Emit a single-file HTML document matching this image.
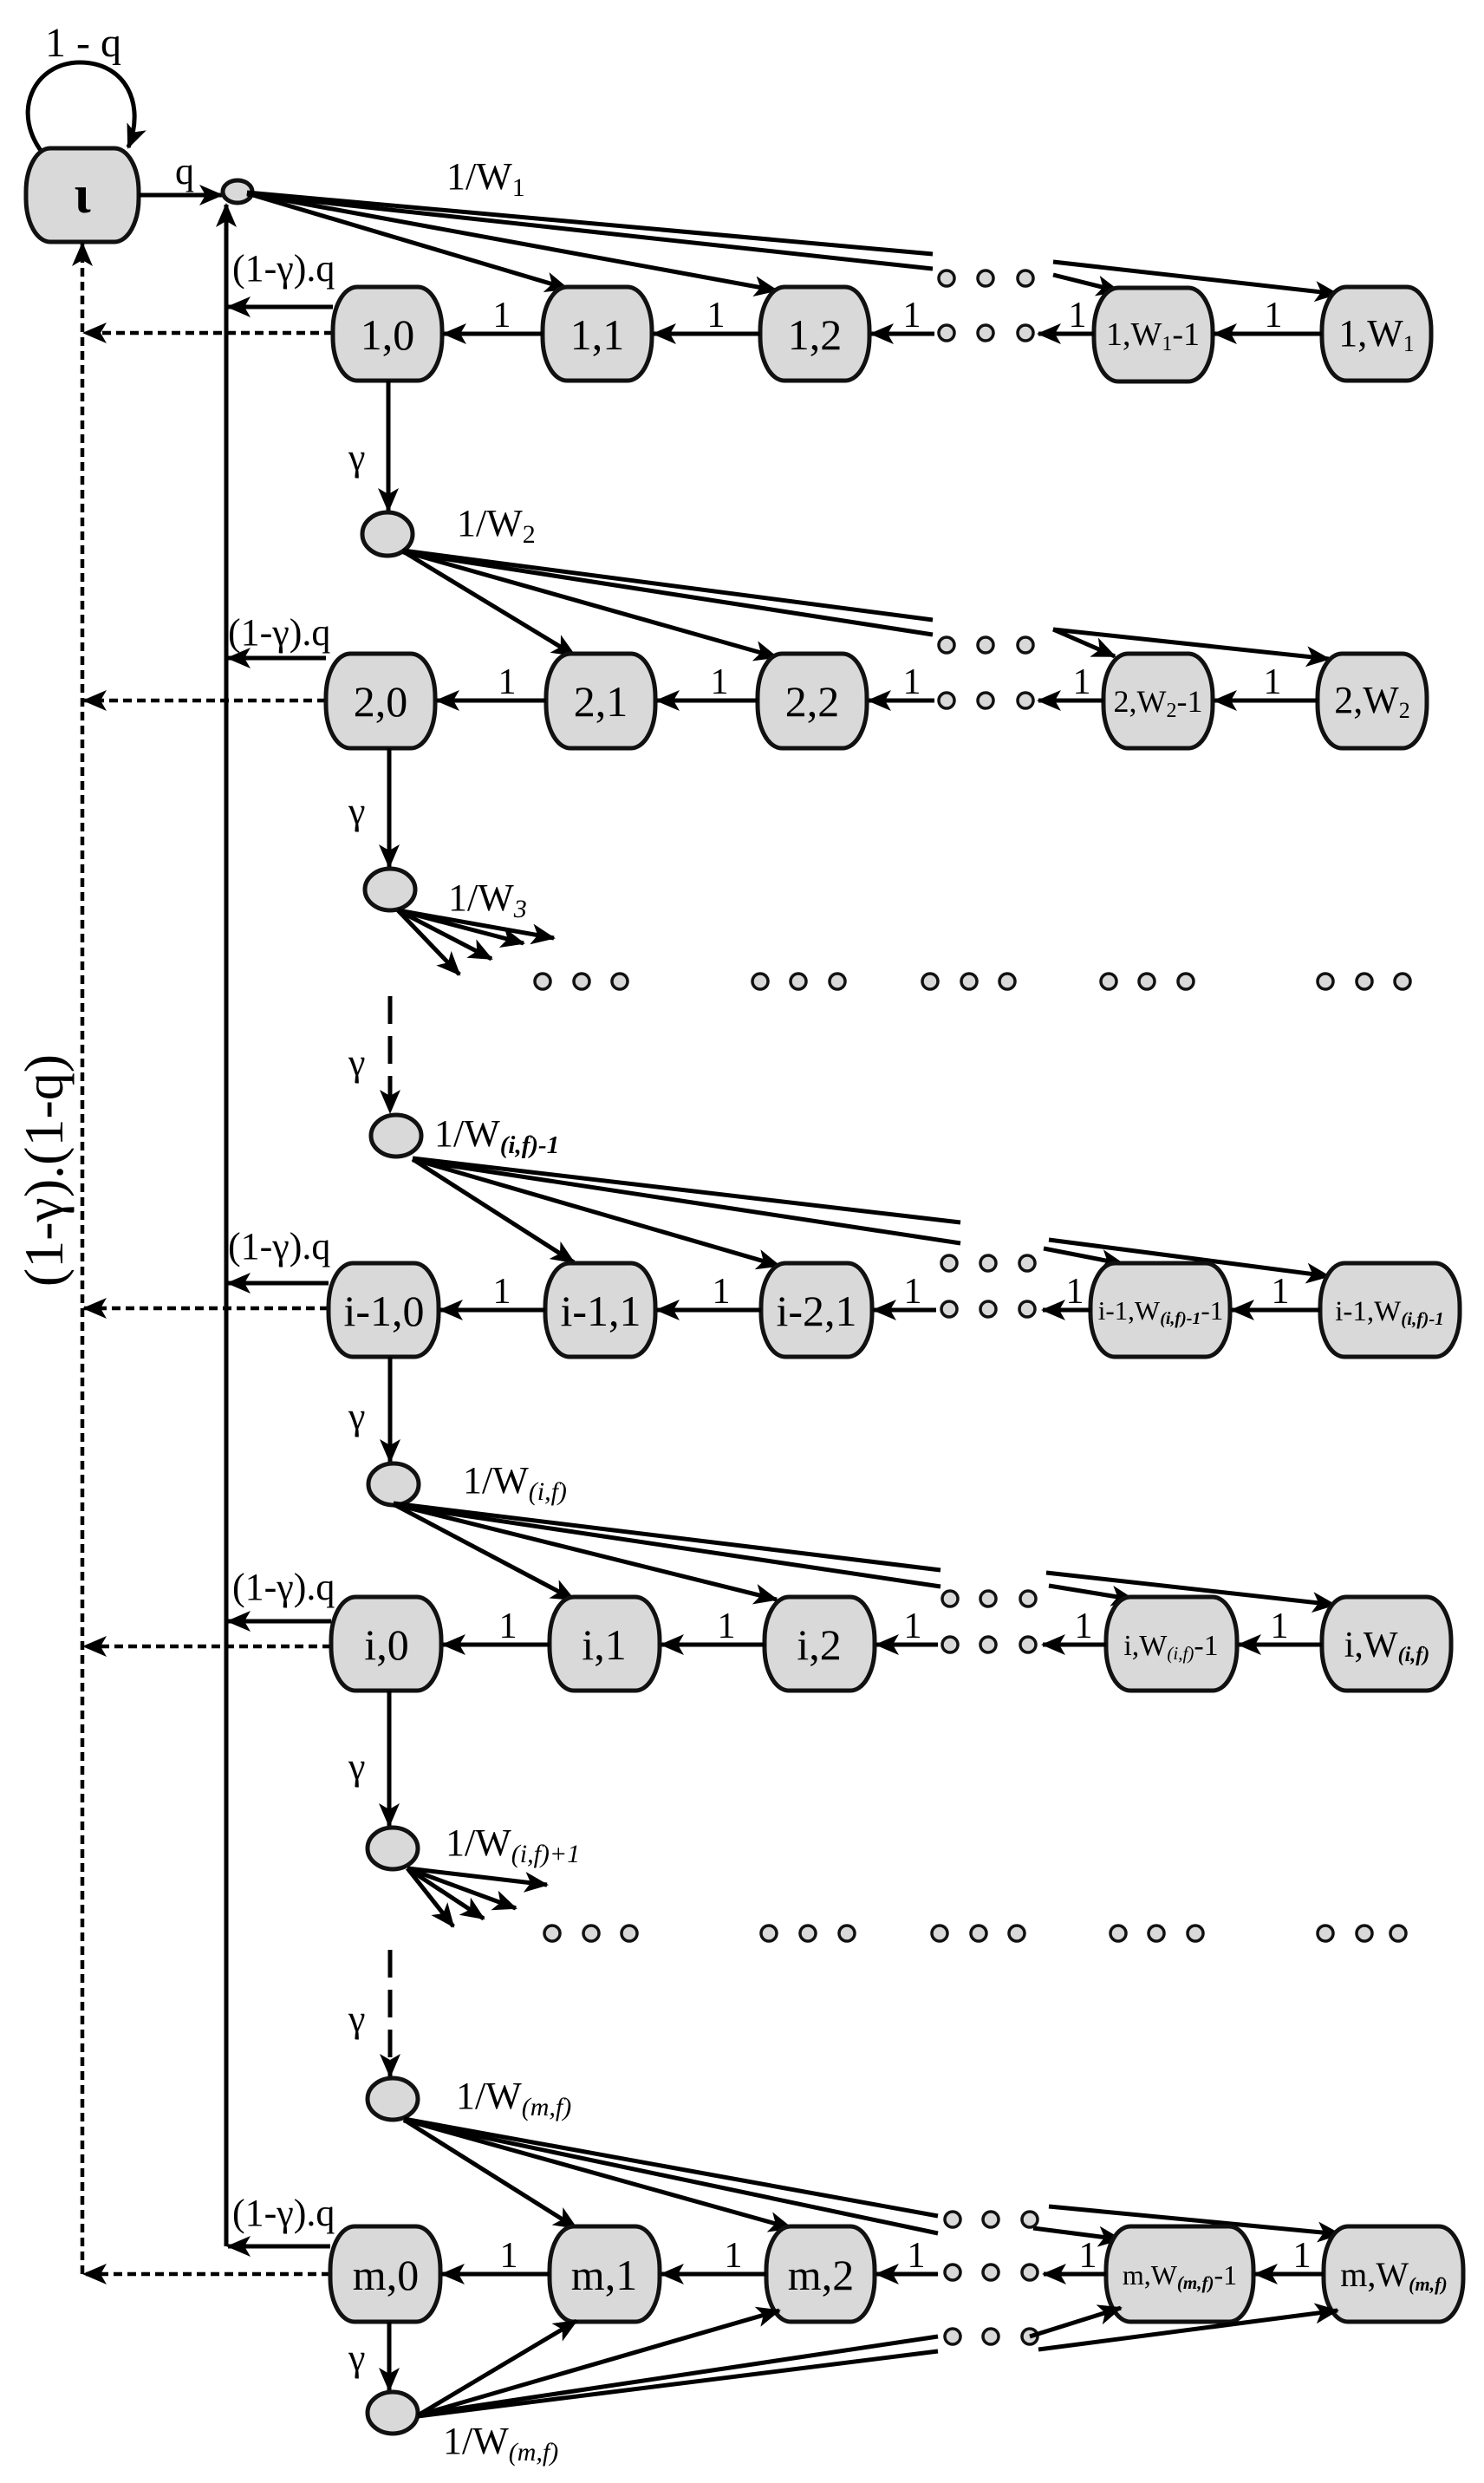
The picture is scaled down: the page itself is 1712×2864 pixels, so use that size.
<!DOCTYPE html>
<html><head><meta charset="utf-8"><style>
html,body{margin:0;padding:0;background:#fff}
svg{display:block}
text{font-family:"Liberation Serif","DejaVu Serif",serif;fill:#000}
.n{fill:#d9d9d9;stroke:#111;stroke-width:5}
.l{stroke:#000;stroke-width:5;fill:none}
.d{stroke:#000;stroke-width:4.5;fill:none;stroke-dasharray:10 6}
.g{stroke:#000;stroke-width:5;fill:none;stroke-dasharray:32 14}
.dot{fill:#d9d9d9;stroke:#111;stroke-width:3.5}
.t{font-size:50px;text-anchor:middle}
.s{font-size:38px;text-anchor:middle}
.x{font-size:29px;text-anchor:middle}
.e{font-size:42px;text-anchor:middle}
.q{font-size:44px}
</style></head><body>
<svg width="1712" height="2864" viewBox="0 0 1712 2864" xmlns="http://www.w3.org/2000/svg" font-family="Liberation Serif, serif">
<defs>
<marker id="a" markerWidth="28" markerHeight="24" refX="26" refY="12" orient="auto" markerUnits="userSpaceOnUse"><path d="M0,0 L28,12 L0,24 L7,12z" fill="#000"/></marker>
</defs>

<!-- iota -->
<text x="96" y="65" style="font-size:48px;text-anchor:middle">1 - q</text>
<path class="l" d="M52,180 C10,130 40,72 92,72 C145,72 168,120 148,170" marker-end="url(#a)"/>
<rect class="n" x="30" y="171" width="130" height="108" rx="28" ry="50"/>
<text x="95" y="245" style="font-size:62px;text-anchor:middle;font-weight:bold">ι</text>
<line class="l" x1="160" y1="225" x2="256" y2="225" marker-end="url(#a)"/>
<text x="202" y="212" class="q">q</text>
<ellipse class="n" cx="274" cy="221" rx="17" ry="13"/>

<!-- main verticals -->
<line class="l" x1="261" y1="2591" x2="261" y2="236" marker-end="url(#a)"/>
<line class="d" x1="95" y1="2623" x2="95" y2="281" marker-end="url(#a)"/>
<text transform="translate(72,1350) rotate(-90)" style="font-size:64px;text-anchor:middle">(1-γ).(1-q)</text>

<!-- ROW 1 -->
<text x="515" y="218" class="q">1/W<tspan font-size="30" dy="8">1</tspan></text>
<line class="l" x1="285" y1="223" x2="655" y2="333" marker-end="url(#a)"/>
<line class="l" x1="285" y1="223" x2="896" y2="335" marker-end="url(#a)"/>
<line class="l" x1="285" y1="222" x2="1076" y2="293"/>
<line class="l" x1="285" y1="224" x2="1076" y2="310"/>
<line class="l" x1="1215" y1="302" x2="1543" y2="339" marker-end="url(#a)"/>
<line class="l" x1="1215" y1="317" x2="1291" y2="336" marker-end="url(#a)"/>
<text x="268" y="324" class="q">(1-γ).q</text>
<line class="l" x1="384" y1="354" x2="263" y2="354" marker-end="url(#a)"/>
<line class="d" x1="384" y1="384" x2="97" y2="384" marker-end="url(#a)"/>
<rect class="n" x="384" y="331" width="126" height="108" rx="28" ry="50"/><text class="t" x="447" y="403">1,0</text>
<rect class="n" x="626" y="331" width="126" height="108" rx="28" ry="50"/><text class="t" x="689" y="403">1,1</text>
<rect class="n" x="877" y="331" width="126" height="108" rx="28" ry="50"/><text class="t" x="940" y="403">1,2</text>
<rect class="n" x="1262" y="332" width="137" height="108" rx="28" ry="50"/><text class="s" x="1330" y="398">1,W<tspan font-size="24" dy="6">1</tspan><tspan dy="-6">-1</tspan></text>
<rect class="n" x="1525" y="331" width="126" height="108" rx="28" ry="50"/><text class="s" x="1588" y="399" style="font-size:44px">1,W<tspan font-size="26" dy="6">1</tspan></text>
<line class="l" x1="626" y1="385" x2="512" y2="385" marker-end="url(#a)"/>
<line class="l" x1="877" y1="385" x2="754" y2="385" marker-end="url(#a)"/>
<line class="l" x1="1078" y1="385" x2="1005" y2="385" marker-end="url(#a)"/>
<line class="l" x1="1262" y1="385" x2="1198" y2="385" marker-end="url(#a)"/>
<line class="l" x1="1525" y1="385" x2="1401" y2="385" marker-end="url(#a)"/>
<text class="e" x="579" y="377">1</text><text class="e" x="826" y="377">1</text><text class="e" x="1052" y="377">1</text><text class="e" x="1243" y="377">1</text><text class="e" x="1469" y="377">1</text>
<circle class="dot" cx="1092" cy="321" r="9"/><circle class="dot" cx="1137" cy="321" r="9"/><circle class="dot" cx="1183" cy="321" r="9"/>
<circle class="dot" cx="1092" cy="384" r="9"/><circle class="dot" cx="1137" cy="384" r="9"/><circle class="dot" cx="1183" cy="384" r="9"/>
<line class="l" x1="448" y1="439" x2="448" y2="589" marker-end="url(#a)"/>
<text x="402" y="542" class="q">γ</text>
<ellipse class="n" cx="447" cy="616" rx="29" ry="25"/>

<!-- ROW 2 -->
<text x="527" y="618" class="q">1/W<tspan font-size="30" dy="8">2</tspan></text>
<line class="l" x1="465" y1="636" x2="663" y2="756" marker-end="url(#a)"/>
<line class="l" x1="465" y1="636" x2="896" y2="758" marker-end="url(#a)"/>
<line class="l" x1="465" y1="635" x2="1076" y2="715"/>
<line class="l" x1="465" y1="637" x2="1076" y2="732"/>
<line class="l" x1="1215" y1="726" x2="1533" y2="760" marker-end="url(#a)"/>
<line class="l" x1="1215" y1="726" x2="1286" y2="757" marker-end="url(#a)"/>
<text x="263" y="744" class="q">(1-γ).q</text>
<line class="l" x1="376" y1="759" x2="263" y2="759" marker-end="url(#a)"/>
<line class="d" x1="376" y1="808" x2="97" y2="808" marker-end="url(#a)"/>
<rect class="n" x="376" y="754" width="126" height="109" rx="28" ry="50"/><text class="t" x="439" y="826">2,0</text>
<rect class="n" x="630" y="754" width="126" height="109" rx="28" ry="50"/><text class="t" x="693" y="826">2,1</text>
<rect class="n" x="874" y="754" width="126" height="109" rx="28" ry="50"/><text class="t" x="937" y="826">2,2</text>
<rect class="n" x="1273" y="754" width="126" height="109" rx="28" ry="50"/><text class="s" x="1336" y="821" style="font-size:36px">2,W<tspan font-size="24" dy="6">2</tspan><tspan dy="-6">-1</tspan></text>
<rect class="n" x="1520" y="754" width="126" height="109" rx="28" ry="50"/><text class="s" x="1583" y="822" style="font-size:44px">2,W<tspan font-size="26" dy="6">2</tspan></text>
<line class="l" x1="630" y1="808" x2="504" y2="808" marker-end="url(#a)"/>
<line class="l" x1="874" y1="808" x2="758" y2="808" marker-end="url(#a)"/>
<line class="l" x1="1078" y1="808" x2="1002" y2="808" marker-end="url(#a)"/>
<line class="l" x1="1273" y1="808" x2="1198" y2="808" marker-end="url(#a)"/>
<line class="l" x1="1520" y1="808" x2="1401" y2="808" marker-end="url(#a)"/>
<text class="e" x="585" y="800">1</text><text class="e" x="830" y="800">1</text><text class="e" x="1052" y="800">1</text><text class="e" x="1248" y="800">1</text><text class="e" x="1468" y="800">1</text>
<circle class="dot" cx="1092" cy="744" r="9"/><circle class="dot" cx="1137" cy="744" r="9"/><circle class="dot" cx="1183" cy="744" r="9"/>
<circle class="dot" cx="1092" cy="808" r="9"/><circle class="dot" cx="1137" cy="808" r="9"/><circle class="dot" cx="1183" cy="808" r="9"/>
<line class="l" x1="449" y1="863" x2="449" y2="1000" marker-end="url(#a)"/>
<text x="402" y="950" class="q">γ</text>
<ellipse class="n" cx="450" cy="1026" rx="29" ry="24"/>

<!-- fan 3 -->
<text x="517" y="1050" class="q">1/W<tspan font-size="30" dy="8" font-style="italic">3</tspan></text>
<line class="l" x1="459" y1="1050" x2="530" y2="1124" marker-end="url(#a)"/>
<line class="l" x1="459" y1="1050" x2="567" y2="1106" marker-end="url(#a)"/>
<line class="l" x1="459" y1="1050" x2="604" y2="1088" marker-end="url(#a)"/>
<line class="l" x1="459" y1="1050" x2="639" y2="1082" marker-end="url(#a)"/>
<g>
<circle class="dot" cx="626" cy="1132" r="9"/><circle class="dot" cx="671" cy="1132" r="9"/><circle class="dot" cx="715" cy="1132" r="9"/>
<circle class="dot" cx="877" cy="1132" r="9"/><circle class="dot" cx="921" cy="1132" r="9"/><circle class="dot" cx="966" cy="1132" r="9"/>
<circle class="dot" cx="1073" cy="1132" r="9"/><circle class="dot" cx="1118" cy="1132" r="9"/><circle class="dot" cx="1162" cy="1132" r="9"/>
<circle class="dot" cx="1279" cy="1132" r="9"/><circle class="dot" cx="1323" cy="1132" r="9"/><circle class="dot" cx="1368" cy="1132" r="9"/>
<circle class="dot" cx="1529" cy="1132" r="9"/><circle class="dot" cx="1574" cy="1132" r="9"/><circle class="dot" cx="1618" cy="1132" r="9"/>
</g>
<line class="g" x1="450" y1="1149" x2="450" y2="1283" marker-end="url(#a)"/>
<text x="402" y="1240" class="q">γ</text>
<ellipse class="n" cx="457" cy="1310" rx="29" ry="24"/>

<!-- ROW i-1 -->
<text x="501" y="1322" class="q">1/W<tspan font-size="29" dy="8" font-style="italic" font-weight="bold">(i,f)-1</tspan></text>
<line class="l" x1="476" y1="1337" x2="662" y2="1456" marker-end="url(#a)"/>
<line class="l" x1="476" y1="1337" x2="899" y2="1460" marker-end="url(#a)"/>
<line class="l" x1="476" y1="1336" x2="1108" y2="1410"/>
<line class="l" x1="476" y1="1338" x2="1108" y2="1434"/>
<line class="l" x1="1210" y1="1430" x2="1533" y2="1472" marker-end="url(#a)"/>
<line class="l" x1="1204" y1="1440" x2="1296" y2="1458" marker-end="url(#a)"/>
<text x="263" y="1452" class="q">(1-γ).q</text>
<line class="l" x1="379" y1="1480" x2="263" y2="1480" marker-end="url(#a)"/>
<line class="d" x1="379" y1="1509" x2="97" y2="1509" marker-end="url(#a)"/>
<rect class="n" x="379" y="1457" width="127" height="108" rx="28" ry="50"/><text class="t" x="443" y="1529">i-1,0</text>
<rect class="n" x="629" y="1457" width="127" height="108" rx="28" ry="50"/><text class="t" x="693" y="1529">i-1,1</text>
<rect class="n" x="878" y="1457" width="128" height="108" rx="28" ry="50"/><text class="t" x="942" y="1529">i-2,1</text>
<rect class="n" x="1258" y="1457" width="161" height="108" rx="28" ry="50"/><text class="x" x="1339" y="1522" style="font-size:31px">i-1,W<tspan font-size="20" dy="5" font-style="italic" font-weight="bold">(i,f)-1</tspan><tspan dy="-5">-1</tspan></text>
<rect class="n" x="1523" y="1457" width="161" height="108" rx="28" ry="50"/><text class="x" x="1603" y="1523" style="font-size:33px">i-1,W<tspan font-size="21" dy="5" font-style="italic" font-weight="bold">(i,f)-1</tspan></text>
<line class="l" x1="629" y1="1511" x2="508" y2="1511" marker-end="url(#a)"/>
<line class="l" x1="878" y1="1511" x2="758" y2="1511" marker-end="url(#a)"/>
<line class="l" x1="1080" y1="1511" x2="1008" y2="1511" marker-end="url(#a)"/>
<line class="l" x1="1258" y1="1511" x2="1203" y2="1511" marker-end="url(#a)"/>
<line class="l" x1="1523" y1="1511" x2="1421" y2="1511" marker-end="url(#a)"/>
<text class="e" x="579" y="1503">1</text><text class="e" x="832" y="1503">1</text><text class="e" x="1053" y="1503">1</text><text class="e" x="1240" y="1503">1</text><text class="e" x="1477" y="1503">1</text>
<circle class="dot" cx="1095" cy="1457" r="9"/><circle class="dot" cx="1140" cy="1457" r="9"/><circle class="dot" cx="1185" cy="1457" r="9"/>
<circle class="dot" cx="1095" cy="1510" r="9"/><circle class="dot" cx="1140" cy="1510" r="9"/><circle class="dot" cx="1185" cy="1510" r="9"/>
<line class="l" x1="450" y1="1565" x2="450" y2="1686" marker-end="url(#a)"/>
<text x="402" y="1648" class="q">γ</text>
<ellipse class="n" cx="454" cy="1712" rx="29" ry="24"/>

<!-- ROW i -->
<text x="534" y="1722" class="q">1/W<tspan font-size="30" dy="8" font-style="italic">(i,f)</tspan></text>
<line class="l" x1="454" y1="1735" x2="662" y2="1845" marker-end="url(#a)"/>
<line class="l" x1="454" y1="1735" x2="896" y2="1845" marker-end="url(#a)"/>
<line class="l" x1="454" y1="1734" x2="1085" y2="1811"/>
<line class="l" x1="454" y1="1736" x2="1085" y2="1830"/>
<line class="l" x1="1207" y1="1814" x2="1540" y2="1851" marker-end="url(#a)"/>
<line class="l" x1="1210" y1="1829" x2="1308" y2="1845" marker-end="url(#a)"/>
<text x="268" y="1845" class="q">(1-γ).q</text>
<line class="l" x1="382" y1="1870" x2="263" y2="1870" marker-end="url(#a)"/>
<line class="d" x1="382" y1="1899" x2="97" y2="1899" marker-end="url(#a)"/>
<rect class="n" x="382" y="1842" width="127" height="108" rx="28" ry="50"/><text class="t" x="446" y="1914">i,0</text>
<rect class="n" x="634" y="1842" width="127" height="108" rx="28" ry="50"/><text class="t" x="697" y="1914">i,1</text>
<rect class="n" x="882" y="1842" width="127" height="108" rx="28" ry="50"/><text class="t" x="945" y="1914">i,2</text>
<rect class="n" x="1276" y="1842" width="151" height="108" rx="28" ry="50"/><text class="s" x="1351" y="1909" style="font-size:34px">i,W<tspan font-size="21" dy="5" font-style="italic">(i,f)</tspan><tspan dy="-5">-1</tspan></text>
<rect class="n" x="1525" y="1842" width="149" height="108" rx="28" ry="50"/><text class="s" x="1600" y="1911" style="font-size:42px">i,W<tspan font-size="24" dy="5" font-style="italic" font-weight="bold">(i,f)</tspan></text>
<line class="l" x1="634" y1="1897" x2="511" y2="1897" marker-end="url(#a)"/>
<line class="l" x1="882" y1="1897" x2="763" y2="1897" marker-end="url(#a)"/>
<line class="l" x1="1082" y1="1897" x2="1011" y2="1897" marker-end="url(#a)"/>
<line class="l" x1="1276" y1="1897" x2="1203" y2="1897" marker-end="url(#a)"/>
<line class="l" x1="1525" y1="1897" x2="1429" y2="1897" marker-end="url(#a)"/>
<text class="e" x="586" y="1889">1</text><text class="e" x="838" y="1889">1</text><text class="e" x="1053" y="1889">1</text><text class="e" x="1250" y="1889">1</text><text class="e" x="1476" y="1889">1</text>
<circle class="dot" cx="1096" cy="1844" r="9"/><circle class="dot" cx="1140" cy="1844" r="9"/><circle class="dot" cx="1186" cy="1844" r="9"/>
<circle class="dot" cx="1096" cy="1897" r="9"/><circle class="dot" cx="1140" cy="1897" r="9"/><circle class="dot" cx="1186" cy="1897" r="9"/>
<line class="l" x1="449" y1="1950" x2="449" y2="2106" marker-end="url(#a)"/>
<text x="402" y="2052" class="q">γ</text>
<ellipse class="n" cx="453" cy="2132" rx="29" ry="24"/>

<!-- fan 6 -->
<text x="514" y="2140" class="q">1/W<tspan font-size="30" dy="8" font-style="italic">(i,f)+1</tspan></text>
<line class="l" x1="470" y1="2155" x2="523" y2="2222" marker-end="url(#a)"/>
<line class="l" x1="470" y1="2155" x2="558" y2="2213" marker-end="url(#a)"/>
<line class="l" x1="470" y1="2155" x2="595" y2="2201" marker-end="url(#a)"/>
<line class="l" x1="470" y1="2155" x2="631" y2="2174" marker-end="url(#a)"/>
<g>
<circle class="dot" cx="637" cy="2230" r="9"/><circle class="dot" cx="682" cy="2230" r="9"/><circle class="dot" cx="726" cy="2230" r="9"/>
<circle class="dot" cx="887" cy="2230" r="9"/><circle class="dot" cx="932" cy="2230" r="9"/><circle class="dot" cx="977" cy="2230" r="9"/>
<circle class="dot" cx="1084" cy="2230" r="9"/><circle class="dot" cx="1129" cy="2230" r="9"/><circle class="dot" cx="1173" cy="2230" r="9"/>
<circle class="dot" cx="1290" cy="2230" r="9"/><circle class="dot" cx="1334" cy="2230" r="9"/><circle class="dot" cx="1379" cy="2230" r="9"/>
<circle class="dot" cx="1529" cy="2230" r="9"/><circle class="dot" cx="1574" cy="2230" r="9"/><circle class="dot" cx="1613" cy="2230" r="9"/>
</g>
<line class="g" x1="450" y1="2249" x2="450" y2="2395" marker-end="url(#a)"/>
<text x="402" y="2343" class="q">γ</text>
<ellipse class="n" cx="453" cy="2421" rx="29" ry="24"/>

<!-- ROW m -->
<text x="526" y="2432" class="q">1/W<tspan font-size="30" dy="8" font-style="italic">(m,f)</tspan></text>
<line class="l" x1="466" y1="2445" x2="665" y2="2570" marker-end="url(#a)"/>
<line class="l" x1="466" y1="2445" x2="913" y2="2570" marker-end="url(#a)"/>
<line class="l" x1="466" y1="2444" x2="1082" y2="2556"/>
<line class="l" x1="466" y1="2446" x2="1082" y2="2576"/>
<line class="l" x1="1210" y1="2545" x2="1546" y2="2577" marker-end="url(#a)"/>
<line class="l" x1="1192" y1="2570" x2="1293" y2="2583" marker-end="url(#a)"/>
<text x="268" y="2567" class="q">(1-γ).q</text>
<line class="l" x1="381" y1="2591" x2="263" y2="2591" marker-end="url(#a)"/>
<line class="d" x1="381" y1="2623" x2="97" y2="2623" marker-end="url(#a)"/>
<rect class="n" x="381" y="2568" width="127" height="110" rx="28" ry="50"/><text class="t" x="445" y="2641">m,0</text>
<rect class="n" x="634" y="2568" width="127" height="110" rx="28" ry="50"/><text class="t" x="697" y="2641">m,1</text>
<rect class="n" x="884" y="2568" width="125" height="110" rx="28" ry="50"/><text class="t" x="947" y="2641">m,2</text>
<rect class="n" x="1276" y="2568" width="170" height="110" rx="28" ry="50"/><text class="s" x="1361" y="2635" style="font-size:32px">m,W<tspan font-size="21" dy="5" font-style="italic" font-weight="bold">(m,f)</tspan><tspan dy="-5">-1</tspan></text>
<rect class="n" x="1527" y="2568" width="161" height="110" rx="28" ry="50"/><text class="s" x="1608" y="2637" style="font-size:40px">m,W<tspan font-size="22" dy="5" font-style="italic" font-weight="bold">(m,f)</tspan></text>
<line class="l" x1="634" y1="2623" x2="510" y2="2623" marker-end="url(#a)"/>
<line class="l" x1="884" y1="2623" x2="763" y2="2623" marker-end="url(#a)"/>
<line class="l" x1="1082" y1="2623" x2="1011" y2="2623" marker-end="url(#a)"/>
<line class="l" x1="1276" y1="2623" x2="1204" y2="2623" marker-end="url(#a)"/>
<line class="l" x1="1527" y1="2623" x2="1448" y2="2623" marker-end="url(#a)"/>
<text class="e" x="587" y="2615">1</text><text class="e" x="846" y="2615">1</text><text class="e" x="1057" y="2615">1</text><text class="e" x="1255" y="2615">1</text><text class="e" x="1502" y="2615">1</text>
<circle class="dot" cx="1099" cy="2560" r="9"/><circle class="dot" cx="1143" cy="2560" r="9"/><circle class="dot" cx="1188" cy="2560" r="9"/>
<circle class="dot" cx="1099" cy="2621" r="9"/><circle class="dot" cx="1143" cy="2621" r="9"/><circle class="dot" cx="1188" cy="2621" r="9"/>
<circle class="dot" cx="1099" cy="2695" r="9"/><circle class="dot" cx="1143" cy="2695" r="9"/><circle class="dot" cx="1188" cy="2695" r="9"/>
<line class="l" x1="449" y1="2678" x2="449" y2="2757" marker-end="url(#a)"/>
<text x="402" y="2734" class="q">γ</text>
<ellipse class="n" cx="453" cy="2783" rx="29" ry="24"/>
<line class="l" x1="482" y1="2786" x2="665" y2="2677" marker-end="url(#a)"/>
<line class="l" x1="482" y1="2786" x2="899" y2="2665" marker-end="url(#a)"/>
<line class="l" x1="482" y1="2785" x2="1082" y2="2695"/>
<line class="l" x1="482" y1="2787" x2="1082" y2="2712"/>
<line class="l" x1="1188" y1="2695" x2="1293" y2="2662" marker-end="url(#a)"/>
<line class="l" x1="1198" y1="2710" x2="1543" y2="2665" marker-end="url(#a)"/>
<text x="511" y="2830" class="q">1/W<tspan font-size="30" dy="8" font-style="italic">(m,f)</tspan></text>
</svg>
</body></html>
